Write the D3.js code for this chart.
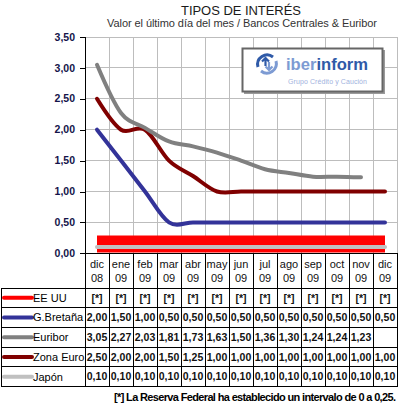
<!DOCTYPE html>
<html>
<head>
<meta charset="utf-8"/>
<script src="https://cdn.jsdelivr.net/npm/d3@7"></script>
<title>Tipos de interés</title>
<style>
body { margin: 0; background: #fff; }
svg { display: block; font-family: Arial, "Liberation Sans", sans-serif; }
</style>
</head>
<body>
<script>
// months (dic 08 .. dic 09)
var mesesA = ["dic","ene","feb","mar","abr","may","jun","jul","ago","sep","oct","nov","dic"];
var mesesB = ["08","09","09","09","09","09","09","09","09","09","09","09","09"];
// series values
var eeuu      = [0.15,0.15,0.15,0.15,0.15,0.15,0.15,0.15,0.15,0.15,0.15,0.15,0.15]; // band 0-0.25
var bretana   = [2.00,1.50,1.00,0.50,0.50,0.50,0.50,0.50,0.50,0.50,0.50,0.50,0.50];
var euribor   = [3.05,2.27,2.03,1.81,1.73,1.63,1.50,1.36,1.30,1.24,1.24,1.23,null];
var zonaEuro  = [2.50,2.00,2.00,1.50,1.25,1.00,1.00,1.00,1.00,1.00,1.00,1.00,1.00];
var japon     = [0.10,0.10,0.10,0.10,0.10,0.10,0.10,0.10,0.10,0.10,0.10,0.10,0.10];
var yTicks    = [0,0.5,1,1.5,2,2.5,3,3.5];

var series = [
  {name:"EE UU",     color:"#ff0000", vals:eeuu,     width:17, star:true},
  {name:"G.Bretaña", color:"#333399", vals:bretana,  width:4},
  {name:"Euribor",   color:"#808080", vals:euribor,  width:4},
  {name:"Zona Euro", color:"#800000", vals:zonaEuro, width:4},
  {name:"Japón",     color:"#c0c0c0", vals:japon,    width:4}
];

var W = 398, H = 418;
var svg = d3.select("body").append("svg").attr("width",W).attr("height",H);

var idx = d3.range(mesesA.length);
var x = d3.scaleBand().domain(idx).range([85,397]).padding(0);
var bw = x.bandwidth();
var cx = function(i){ return x(i) + bw/2; };
var y = d3.scaleLinear().domain([0,3.5]).range([253.3,37]);

var fmt = function(v){ return v == null ? "" : d3.format(".2f")(v).replace(".", ","); };

// titles
svg.append("text").attr("x",241).attr("y",15).attr("text-anchor","middle")
  .attr("font-size",13).attr("fill","#1a1a1a").attr("textLength",120)
  .text("TIPOS DE INTERÉS");
svg.append("text").attr("x",242).attr("y",27).attr("text-anchor","middle")
  .attr("font-size",11).attr("fill","#333").attr("textLength",270)
  .text("Valor el último día del mes / Bancos Centrales & Euribor");

// grid
var g = svg.append("g");
g.selectAll(".hg").data(yTicks).enter().append("line")
  .attr("x1",85).attr("x2",397).attr("y1",function(d){return y(d);}).attr("y2",function(d){return y(d);})
  .attr("stroke","#bdbdbd").attr("stroke-width",1).attr("shape-rendering","crispEdges");
g.selectAll(".vg").data(idx).enter().append("line")
  .attr("x1",function(i){return x(i)+bw;}).attr("x2",function(i){return x(i)+bw;})
  .attr("y1",y(3.5)).attr("y2",y(0))
  .attr("stroke","#bdbdbd").attr("stroke-width",1).attr("shape-rendering","crispEdges");

// logo box
var logo = svg.append("g");
logo.append("rect").attr("x",244).attr("y",50).attr("width",141).attr("height",44).attr("fill","#9a9a9a");
logo.append("rect").attr("x",242.5).attr("y",48.5).attr("width",140).attr("height",43)
  .attr("fill","#fff").attr("stroke","#666").attr("stroke-width",2);
var ic = logo.append("g").attr("transform","translate(267,64)");
ic.append("path").attr("d","M-9,3 A9.5,9.5 0 0 1 6,-7").attr("fill","none").attr("stroke","#2f5aa8").attr("stroke-width",3);
ic.append("path").attr("d","M9,-3 A9.5,9.5 0 0 1 -6,7").attr("fill","none").attr("stroke","#7d9bd3").attr("stroke-width",3);
ic.append("path").attr("d","M-1.5,2 L-1.5,-6 M-5,-2.5 L-1.5,-6 L2,-2.5").attr("fill","none").attr("stroke","#2f5aa8").attr("stroke-width",2.2);
ic.append("path").attr("d","M2,-2 L2,6 M-1.5,2.5 L2,6 L5.5,2.5").attr("fill","none").attr("stroke","#7d9bd3").attr("stroke-width",2.2);
var lt = logo.append("text").attr("x",286).attr("y",70).attr("font-size",17).attr("font-weight","bold")
  .attr("textLength",82).attr("lengthAdjust","spacingAndGlyphs");
lt.append("tspan").attr("fill","#7d9bd3").text("iber");
lt.append("tspan").attr("fill","#2f5aa8").text("inform");
logo.append("text").attr("x",288).attr("y",84).attr("font-size",7).attr("fill","#9fb3de")
  .attr("textLength",79).text("Grupo Crédito y Caución");

// series lines
var line = d3.line().defined(function(d){return d != null;})
  .x(function(d,i){return cx(i);}).y(function(d){return y(d);})
  .curve(d3.curveCatmullRom.alpha(0));
var drawOrder = [0,4,1,3,2];
drawOrder.forEach(function(k){
  var s = series[k];
  svg.append("path").datum(s.vals).attr("d",line)
    .attr("fill","none").attr("stroke",s.color).attr("stroke-width",s.width)
    .attr("stroke-linecap", s.star ? "butt" : "round").attr("stroke-linejoin","round");
});

// axes
svg.append("line").attr("x1",85.5).attr("x2",85.5).attr("y1",y(3.5)).attr("y2",y(0)).attr("stroke","#000");
svg.append("line").attr("x1",80).attr("x2",397).attr("y1",253.5).attr("y2",253.5).attr("stroke","#000");
svg.selectAll(".tk").data(yTicks).enter().append("line")
  .attr("x1",80).attr("x2",85).attr("y1",function(d){return Math.round(y(d))+0.5;}).attr("y2",function(d){return Math.round(y(d))+0.5;})
  .attr("stroke","#000");
svg.selectAll(".tl").data(yTicks).enter().append("text")
  .attr("x",75).attr("y",function(d){return y(d);}).attr("dy","0.35em")
  .attr("text-anchor","end").attr("font-size",10.5).attr("font-weight","bold").attr("fill","#14144a")
  .text(function(d){return fmt(d);});

// data table
var rowTop = 288, rowH = 19.7;
var tb = svg.append("g").attr("shape-rendering","crispEdges");
idx.concat([13]).forEach(function(i){
  var xx = i < 13 ? x(i) : 397;
  tb.append("line").attr("x1",xx).attr("x2",xx).attr("y1",253).attr("y2",rowTop+rowH*5).attr("stroke","#000");
});
tb.append("line").attr("x1",1).attr("x2",1).attr("y1",rowTop).attr("y2",rowTop+rowH*5).attr("stroke","#000");
d3.range(6).forEach(function(r){
  tb.append("line").attr("x1",1).attr("x2",397).attr("y1",rowTop+rowH*r).attr("y2",rowTop+rowH*r).attr("stroke","#000");
});
svg.selectAll(".h1").data(idx).enter().append("text")
  .attr("x",function(i){return cx(i);}).attr("y",268).attr("text-anchor","middle")
  .attr("font-size",11).attr("fill","#111").text(function(i){return mesesA[i];});
svg.selectAll(".h2").data(idx).enter().append("text")
  .attr("x",function(i){return cx(i);}).attr("y",282).attr("text-anchor","middle")
  .attr("font-size",11).attr("fill","#111").text(function(i){return mesesB[i];});

series.forEach(function(s,r){
  var cy = rowTop + rowH*r + rowH/2;
  svg.append("line").attr("x1",4).attr("x2",32).attr("y1",cy).attr("y2",cy)
    .attr("stroke",s.color).attr("stroke-width",4).attr("stroke-linecap","round");
  svg.append("text").attr("x",33).attr("y",cy).attr("dy","0.35em")
    .attr("font-size",11).attr("fill","#000").text(s.name);
  svg.selectAll(".c"+r).data(idx).enter().append("text")
    .attr("x",function(i){return cx(i);}).attr("y",cy).attr("dy","0.35em").attr("text-anchor","middle")
    .attr("font-size",10.5).attr("font-weight","bold").attr("fill","#111")
    .attr("font-family", s.star ? "'Liberation Sans Narrow', 'Arial Narrow', Arial, sans-serif" : null)
    .text(function(i){return s.star ? "[*]" : fmt(s.vals[i]);});
});

// footnote
svg.append("text").attr("x",114).attr("y",401)
  .attr("font-size",11).attr("font-weight","bold").attr("fill","#000")
  .attr("font-family","'Liberation Sans Narrow', 'Arial Narrow', Arial, sans-serif")
  .attr("textLength",282)
  .text("[*] La Reserva Federal ha establecido un intervalo de 0 a 0,25.");
</script>
</body>
</html>
